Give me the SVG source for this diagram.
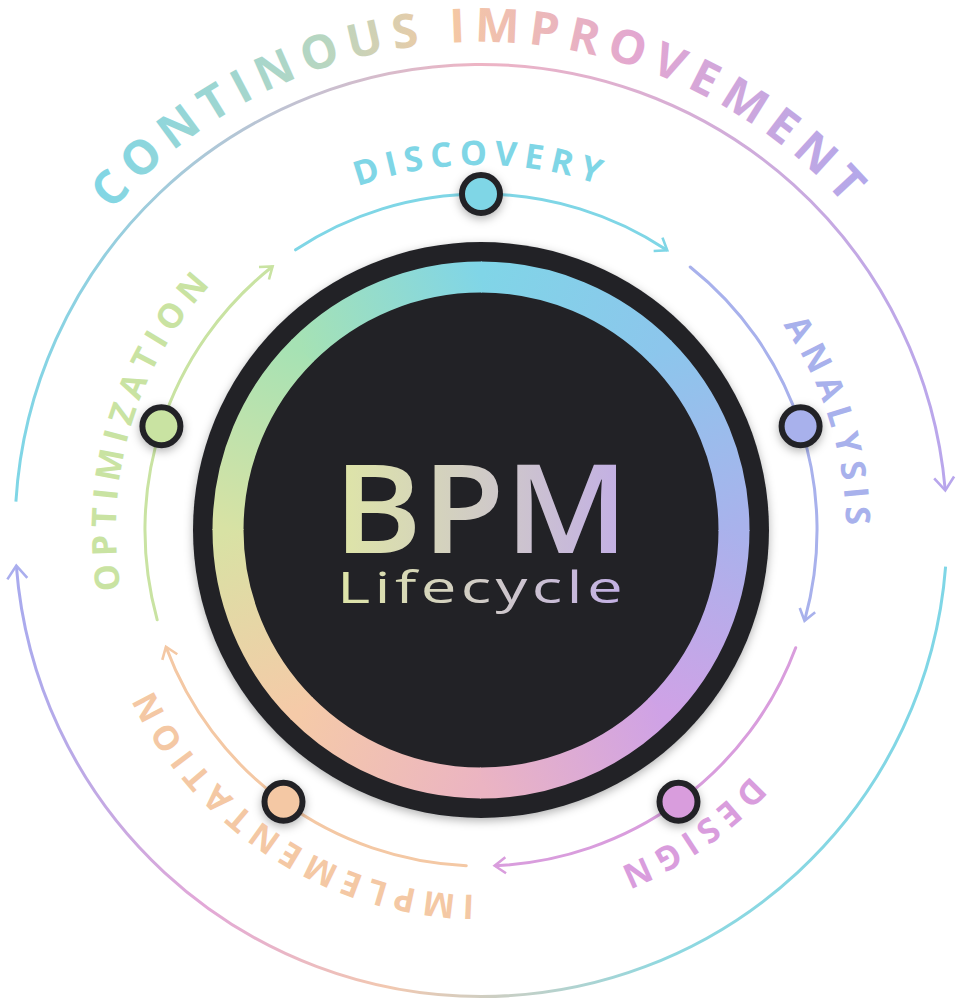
<svg xmlns="http://www.w3.org/2000/svg" width="963" height="1000" viewBox="0 0 963 1000">
<defs>
<style>
.lbl{font-family:"Open Sans","Liberation Sans",sans-serif;font-weight:700;font-size:34px;letter-spacing:7px}
.outer{font-family:"Open Sans","Liberation Sans",sans-serif;font-weight:700;font-size:47px;letter-spacing:9px}
.seg{fill:none;stroke-width:3;stroke-linecap:round}
.ring{fill:none;stroke-width:31}
.node{stroke:#232428;stroke-width:6;filter:url(#sh)}
</style>
<filter id="sh" x="-50%" y="-50%" width="200%" height="200%"><feDropShadow dx="0" dy="3" stdDeviation="5" flood-color="#000" flood-opacity="0.3"/></filter>
<path id="c365" d="M481 895 A365 365 0 1 1 481 165 A365 365 0 1 1 481 895"/>
<path id="c488" d="M481 1018 A488 488 0 1 1 481 42 A488 488 0 1 1 481 1018"/>
<marker id="aC" viewBox="0 0 20 20" refX="14" refY="10" markerWidth="20" markerHeight="20" markerUnits="userSpaceOnUse" orient="auto"><path d="M4 2 L15 10 L4 18" fill="none" stroke="#7fd6e6" stroke-width="2.6"/></marker>
<marker id="aB" viewBox="0 0 20 20" refX="14" refY="10" markerWidth="20" markerHeight="20" markerUnits="userSpaceOnUse" orient="auto"><path d="M4 2 L15 10 L4 18" fill="none" stroke="#a8b1ec" stroke-width="2.6"/></marker>
<marker id="aP" viewBox="0 0 20 20" refX="14" refY="10" markerWidth="20" markerHeight="20" markerUnits="userSpaceOnUse" orient="auto"><path d="M4 2 L15 10 L4 18" fill="none" stroke="#d99ddd" stroke-width="2.6"/></marker>
<marker id="aO" viewBox="0 0 20 20" refX="14" refY="10" markerWidth="20" markerHeight="20" markerUnits="userSpaceOnUse" orient="auto"><path d="M4 2 L15 10 L4 18" fill="none" stroke="#f4c8a4" stroke-width="2.6"/></marker>
<marker id="aG" viewBox="0 0 20 20" refX="14" refY="10" markerWidth="20" markerHeight="20" markerUnits="userSpaceOnUse" orient="auto"><path d="M4 2 L15 10 L4 18" fill="none" stroke="#c9e3a2" stroke-width="2.6"/></marker>
<marker id="aL" viewBox="0 0 24 24" refX="16" refY="12" markerWidth="24" markerHeight="24" markerUnits="userSpaceOnUse" orient="auto"><path d="M4 2 L17 12 L4 22" fill="none" stroke="#b8a6ec" stroke-width="2.6"/></marker>
<marker id="aL2" viewBox="0 0 24 24" refX="16" refY="12" markerWidth="24" markerHeight="24" markerUnits="userSpaceOnUse" orient="auto"><path d="M4 2 L17 12 L4 22" fill="none" stroke="#aaaeee" stroke-width="2.6"/></marker>
<linearGradient id="gTop" gradientUnits="userSpaceOnUse" x1="15" y1="0" x2="945" y2="0"><stop offset="0" stop-color="#7fd6e6"/><stop offset="0.5" stop-color="#eeb4c4"/><stop offset="1" stop-color="#b9a6ec"/></linearGradient>
<linearGradient id="gBot" gradientUnits="userSpaceOnUse" x1="945" y1="0" x2="15" y2="0"><stop offset="0" stop-color="#7fd6e6"/><stop offset="0.3" stop-color="#8fd8e0"/><stop offset="0.6" stop-color="#f2c8b0"/><stop offset="0.8" stop-color="#e2a8d8"/><stop offset="1" stop-color="#a8aaee"/></linearGradient>
<linearGradient id="gTxt" gradientUnits="userSpaceOnUse" x1="90" y1="0" x2="880" y2="0"><stop offset="0" stop-color="#7fd6e6"/><stop offset="0.3" stop-color="#b8d6c0"/><stop offset="0.45" stop-color="#f5c9a2"/><stop offset="0.7" stop-color="#e2a6d2"/><stop offset="1" stop-color="#b0a8ec"/></linearGradient>
<linearGradient id="gBPM" gradientUnits="userSpaceOnUse" x1="333" y1="0" x2="630" y2="0"><stop offset="0" stop-color="#dfe6a6"/><stop offset="0.5" stop-color="#d0cbc6"/><stop offset="1" stop-color="#c2aee6"/></linearGradient>
<linearGradient id="r1" gradientUnits="userSpaceOnUse" x1="481" y1="277" x2="659.9" y2="351.1"><stop offset="0" stop-color="#80d5e7"/><stop offset="1" stop-color="#8cc6ec"/></linearGradient>
<linearGradient id="r2" gradientUnits="userSpaceOnUse" x1="659.9" y1="351.1" x2="734" y2="530"><stop offset="0" stop-color="#8cc6ec"/><stop offset="1" stop-color="#a9b2ec"/></linearGradient>
<linearGradient id="r3" gradientUnits="userSpaceOnUse" x1="734" y1="530" x2="659.9" y2="708.9"><stop offset="0" stop-color="#a9b2ec"/><stop offset="1" stop-color="#cfa2e6"/></linearGradient>
<linearGradient id="r4" gradientUnits="userSpaceOnUse" x1="659.9" y1="708.9" x2="481" y2="783"><stop offset="0" stop-color="#cfa2e6"/><stop offset="1" stop-color="#ebb4c2"/></linearGradient>
<linearGradient id="r5" gradientUnits="userSpaceOnUse" x1="481" y1="783" x2="302.1" y2="708.9"><stop offset="0" stop-color="#ebb4c2"/><stop offset="1" stop-color="#f5caa8"/></linearGradient>
<linearGradient id="r6" gradientUnits="userSpaceOnUse" x1="302.1" y1="708.9" x2="228" y2="530"><stop offset="0" stop-color="#f5caa8"/><stop offset="1" stop-color="#d8e2a4"/></linearGradient>
<linearGradient id="r7" gradientUnits="userSpaceOnUse" x1="228" y1="530" x2="302.1" y2="351.1"><stop offset="0" stop-color="#d8e2a4"/><stop offset="1" stop-color="#a6e2b4"/></linearGradient>
<linearGradient id="r8" gradientUnits="userSpaceOnUse" x1="302.1" y1="351.1" x2="481" y2="277"><stop offset="0" stop-color="#a6e2b4"/><stop offset="1" stop-color="#80d5e7"/></linearGradient>
</defs>
<rect width="963" height="1000" fill="#ffffff"/>

<g id="connectors">
<path d="M15.9 501.6 A466 466 0 0 1 945.2 489.4" fill="none" stroke="url(#gTop)" stroke-width="3" marker-end="url(#aL)"/>
<path d="M945.6 566.6 A466 466 0 0 1 16.4 566.6" fill="none" stroke="url(#gBot)" stroke-width="3" marker-end="url(#aL2)"/>
<path class="seg" d="M295.6 249.8 A336 336 0 0 1 666.4 249.8" stroke="#7fd6e6" marker-end="url(#aC)"/>
<path class="seg" d="M690.2 267 A336 336 0 0 1 804.8 619.8" stroke="#a8b1ec" marker-end="url(#aB)"/>
<path class="seg" d="M795.7 647.7 A336 336 0 0 1 495.7 865.7" stroke="#d99ddd" marker-end="url(#aP)"/>
<path class="seg" d="M466.3 865.7 A336 336 0 0 1 166.3 647.7" stroke="#f4c8a4" marker-end="url(#aO)"/>
<path class="seg" d="M157.2 619.8 A336 336 0 0 1 271.8 267" stroke="#c9e3a2" marker-end="url(#aG)"/>
</g>

<g id="outer-label">
<text class="outer" fill="url(#gTxt)"><textPath href="#c488" startOffset="50%" text-anchor="middle">CONTINOUS IMPROVEMENT</textPath></text>
</g>

<g id="center">
<circle cx="481" cy="530" r="288" fill="#232428" filter="url(#sh)"/>
<path class="ring" d="M481 277 A253 253 0 0 1 660.6 351.8" stroke="url(#r1)"/>
<path class="ring" d="M659.9 351.1 A253 253 0 0 1 734 531" stroke="url(#r2)"/>
<path class="ring" d="M734 530 A253 253 0 0 1 659.2 709.6" stroke="url(#r3)"/>
<path class="ring" d="M659.9 708.9 A253 253 0 0 1 480 783" stroke="url(#r4)"/>
<path class="ring" d="M481 783 A253 253 0 0 1 301.4 708.2" stroke="url(#r5)"/>
<path class="ring" d="M302.1 708.9 A253 253 0 0 1 228 529" stroke="url(#r6)"/>
<path class="ring" d="M228 530 A253 253 0 0 1 302.8 350.4" stroke="url(#r7)"/>
<path class="ring" d="M302.1 351.1 A253 253 0 0 1 482 277" stroke="url(#r8)"/>
<text x="481" y="553" text-anchor="middle" font-family="'Open Sans','Liberation Sans',sans-serif" font-size="124" font-weight="600" fill="url(#gBPM)" textLength="295" lengthAdjust="spacingAndGlyphs">BPM</text>
<text x="482" y="603" text-anchor="middle" font-family="'Open Sans','Liberation Sans',sans-serif" font-size="44" font-weight="500" letter-spacing="3" fill="url(#gBPM)" textLength="290" lengthAdjust="spacingAndGlyphs">Lifecycle</text>
</g>

<g id="discovery">
<circle class="node" cx="481" cy="194" r="19" fill="#7fd6e6"/>
<text class="lbl" fill="#7fd6e6"><textPath href="#c365" startOffset="50%" text-anchor="middle">DISCOVERY</textPath></text>
</g>
<g id="analysis">
<circle class="node" cx="800.6" cy="426.2" r="19" fill="#a8b1ec"/>
<text class="lbl" fill="#a8b1ec"><textPath href="#c365" startOffset="70.3%" text-anchor="middle">ANALYSIS</textPath></text>
</g>
<g id="design">
<circle class="node" cx="678.5" cy="801.8" r="19" fill="#d99ddd"/>
<text class="lbl" fill="#d99ddd"><textPath href="#c365" startOffset="90.4%" text-anchor="middle">DESIGN</textPath></text>
</g>
<g id="implementation">
<circle class="node" cx="283.5" cy="801.8" r="19" fill="#f4c8a4"/>
<text class="lbl" fill="#f4c8a4"><textPath href="#c365" startOffset="9.2%" text-anchor="middle">IMPLEMENTATION</textPath></text>
</g>
<g id="optimization">
<circle class="node" cx="161.4" cy="426.2" r="19" fill="#c9e3a2"/>
<text class="lbl" fill="#c9e3a2"><textPath href="#c365" startOffset="29.7%" text-anchor="middle">OPTIMIZATION</textPath></text>
</g>
</svg>
